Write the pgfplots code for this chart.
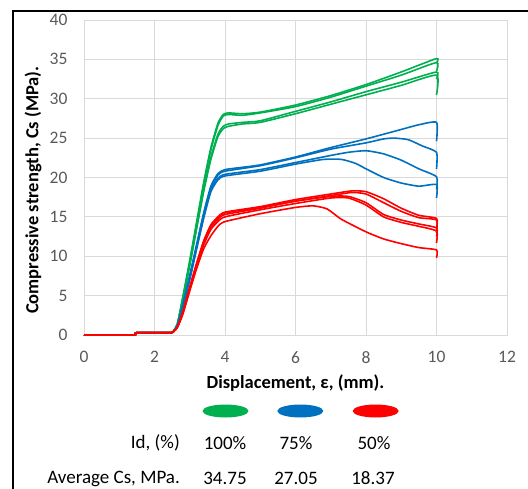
\documentclass[border=0pt]{standalone}
\usepackage{pgfplots}
\pgfplotsset{compat=1.18}
\usepackage{fontspec}
\setmainfont{Carlito}
\definecolor{cG}{HTML}{00B050}
\definecolor{cB}{HTML}{0070C0}
\definecolor{cR}{HTML}{FF0000}
\definecolor{tk}{HTML}{595959}
\definecolor{gr}{HTML}{D9D9D9}
\begin{document}
\begin{tikzpicture}[x=1pt,y=1pt]
\useasboundingbox (0,0) rectangle (528,488);
\draw[line width=2pt] (13,-5) -- (13,477) -- (540,477);
\begin{axis}[
  at={(84pt,153pt)}, anchor=south west,
  scale only axis, width=423pt, height=315pt,
  xmin=0, xmax=12, ymin=0, ymax=40,
  xtick={0,2,...,12}, ytick={0,5,...,40},
  grid=major, grid style={gr, line width=0.9pt},
  axis line style={gr, line width=0.9pt},
  major tick length=0pt,
  tick label style={font=\fontsize{17.5}{19}\selectfont, text=tk},
  /pgf/number format/assume math mode=true,
  yticklabel style={xshift=-13pt},
  xticklabel style={yshift=-13pt},
  xlabel={\bfseries Displacement, ε, (mm).},
  ylabel={\bfseries Compressive strength, Cs (MPa).},
  label style={font=\fontsize{18.5}{20}\selectfont},
  xlabel style={at={(axis description cs:0.5,-0.152)}, anchor=center},
  ylabel style={at={(axis description cs:-0.1206,0.46)}, anchor=center},
  every axis plot/.append style={line width=1.6pt, smooth, tension=0.35},
  clip=false]
% green, Id = 100%
\addplot[cG] coordinates {(0,0) (1.4,0) (1.5,0.3) (2.45,0.3) (2.55,0.6) (2.65,1.4) (2.8,4.8) (3.0,9.5) (3.2,14.5) (3.4,19.5) (3.6,23.8) (3.8,26.9) (3.95,28) (4.1,28.2) (4.5,28.1) (5,28.3) (6,29.2) (7,30.4) (8,31.8) (9,33.4) (10,35.1) (10,34.5)};
\addplot[cG] coordinates {(0,0) (1.4,0) (1.5,0.3) (2.45,0.3) (2.55,0.6) (2.65,1.4) (2.8,4.6) (3.0,9.2) (3.2,14.2) (3.4,19.2) (3.6,23.5) (3.8,26.6) (3.95,27.8) (4.1,28.0) (4.5,27.9) (5,28.2) (6,29.0) (7,30.2) (8,31.6) (9,33.0) (10,34.6) (10,33.5)};
\addplot[cG] coordinates {(0,0) (1.4,0) (1.5,0.3) (2.45,0.3) (2.55,0.6) (2.65,1.4) (2.8,4.5) (3.0,9.0) (3.2,13.8) (3.4,18.6) (3.6,22.6) (3.8,25.5) (3.95,26.5) (4.1,26.8) (4.5,27.0) (5,27.2) (6,28.4) (7,29.6) (8,30.9) (9,32.1) (10,33.4) (10,32.5)};
\addplot[cG] coordinates {(0,0) (1.4,0) (1.5,0.3) (2.45,0.3) (2.55,0.6) (2.65,1.4) (2.8,4.4) (3.0,8.8) (3.2,13.6) (3.4,18.3) (3.6,22.3) (3.8,25.2) (3.95,26.2) (4.1,26.5) (4.5,26.8) (5,27.0) (6,28.1) (7,29.3) (8,30.5) (9,31.7) (10,33.0) (10,30.5)};
% blue, Id = 75%
\addplot[cB] coordinates {(0,0) (1.4,0) (1.5,0.3) (2.45,0.3) (2.55,0.5) (2.65,1.2) (2.8,3.8) (3.0,7.6) (3.2,11.6) (3.4,15.6) (3.6,18.9) (3.8,20.5) (4.0,21.0) (4.5,21.3) (5,21.6) (6,22.6) (7,23.8) (8,24.9) (9,26.1) (9.5,26.7) (10,27.0) (10,24.6)};
\addplot[cB] coordinates {(0,0) (1.4,0) (1.5,0.3) (2.45,0.3) (2.55,0.5) (2.65,1.2) (2.8,3.7) (3.0,7.4) (3.2,11.4) (3.4,15.4) (3.6,18.7) (3.8,20.3) (4.0,20.8) (5,21.5) (6,22.5) (7,23.6) (8,24.4) (8.5,24.9) (8.8,25.0) (9.2,24.8) (9.6,24.0) (10,23.2) (10,21.1)};
\addplot[cB] coordinates {(0,0) (1.4,0) (1.5,0.3) (2.45,0.3) (2.55,0.5) (2.65,1.2) (2.8,3.6) (3.0,7.2) (3.2,11.2) (3.4,15.1) (3.6,18.4) (3.8,19.9) (4.0,20.4) (5,21.0) (6,21.9) (7,22.8) (7.5,23.2) (8,23.4) (8.5,23.0) (9,22.2) (9.5,21.1) (10,20.1) (10,18.5)};
\addplot[cB] coordinates {(0,0) (1.4,0) (1.5,0.3) (2.45,0.3) (2.55,0.5) (2.65,1.2) (2.8,3.5) (3.0,7.0) (3.2,11.0) (3.4,14.9) (3.6,18.2) (3.8,19.7) (4.0,20.2) (5,20.8) (6,21.7) (6.8,22.3) (7.3,22.3) (7.7,21.8) (8,21.1) (8.5,20.0) (9,19.3) (9.5,18.9) (10,19.1) (10,17.4)};
% red, Id = 50%
\addplot[cR] coordinates {(0,0) (1.4,0) (1.5,0.3) (2.45,0.3) (2.55,0.5) (2.65,1.0) (2.8,2.9) (3.0,6.1) (3.2,9.2) (3.4,12.0) (3.6,14.0) (3.8,15.0) (4.0,15.6) (5,16.3) (6,17.2) (7,17.9) (7.6,18.3) (8,18.2) (8.5,17.3) (9,16.1) (9.5,15.2) (10,14.8) (10,13.5)};
\addplot[cR] coordinates {(0,0) (1.4,0) (1.5,0.3) (2.45,0.3) (2.55,0.5) (2.65,1.0) (2.8,2.8) (3.0,6.0) (3.2,9.1) (3.4,11.9) (3.6,13.9) (3.8,14.9) (4.0,15.5) (5,16.2) (6,17.0) (7,17.7) (7.6,18.1) (8,17.9) (8.5,16.8) (9,15.7) (9.5,14.9) (10,14.6) (10,13.0)};
\addplot[cR] coordinates {(0,0) (1.4,0) (1.5,0.3) (2.45,0.3) (2.55,0.5) (2.65,1.0) (2.8,2.8) (3.0,5.9) (3.2,9.0) (3.4,11.8) (3.6,13.7) (3.8,14.7) (4.0,15.3) (5,16.1) (6,17.0) (7,17.6) (7.5,17.6) (8,16.8) (8.5,15.3) (9,14.6) (9.5,14.1) (10,13.6) (10,12.5)};
\addplot[cR] coordinates {(0,0) (1.4,0) (1.5,0.3) (2.45,0.3) (2.55,0.5) (2.65,1.0) (2.8,2.7) (3.0,5.8) (3.2,8.8) (3.4,11.5) (3.6,13.4) (3.8,14.4) (4.0,15.0) (5,15.9) (6,16.7) (7,17.4) (7.5,17.4) (8,16.5) (8.5,15.0) (9,14.3) (9.5,13.8) (10,13.2) (10,11.7)};
\addplot[cR] coordinates {(0,0) (1.4,0) (1.5,0.3) (2.45,0.3) (2.55,0.5) (2.65,1.0) (2.8,2.6) (3.0,5.6) (3.2,8.5) (3.4,11.0) (3.6,12.6) (3.8,13.8) (4.0,14.4) (5,15.4) (6,16.2) (6.5,16.4) (6.9,16.0) (7.3,14.7) (8,13.1) (8.5,12.2) (9,11.6) (9.5,11.1) (10,10.8) (10,9.8)};
\end{axis}
% legend block below the axis
\fill[cG] (225.5,77) ellipse (23 and 6.5);
\fill[cB] (300.3,77) ellipse (23 and 6.5);
\fill[cR] (375.7,77) ellipse (23 and 6.5);
\begin{scope}[every node/.style={font=\fontsize{19}{21}\selectfont, inner sep=0pt}]
\node[anchor=east] at (180,45) {Id, (\%)};
\node at (225,45) {100\%};
\node at (296,45) {75\%};
\node at (374,45) {50\%};
\node[anchor=east] at (180,9.5) {Average Cs, MPa.};
\node at (225,9.5) {34.75};
\node at (296,9.5) {27.05};
\node at (373,9.5) {18.37};
\end{scope}
\end{tikzpicture}
\end{document}
